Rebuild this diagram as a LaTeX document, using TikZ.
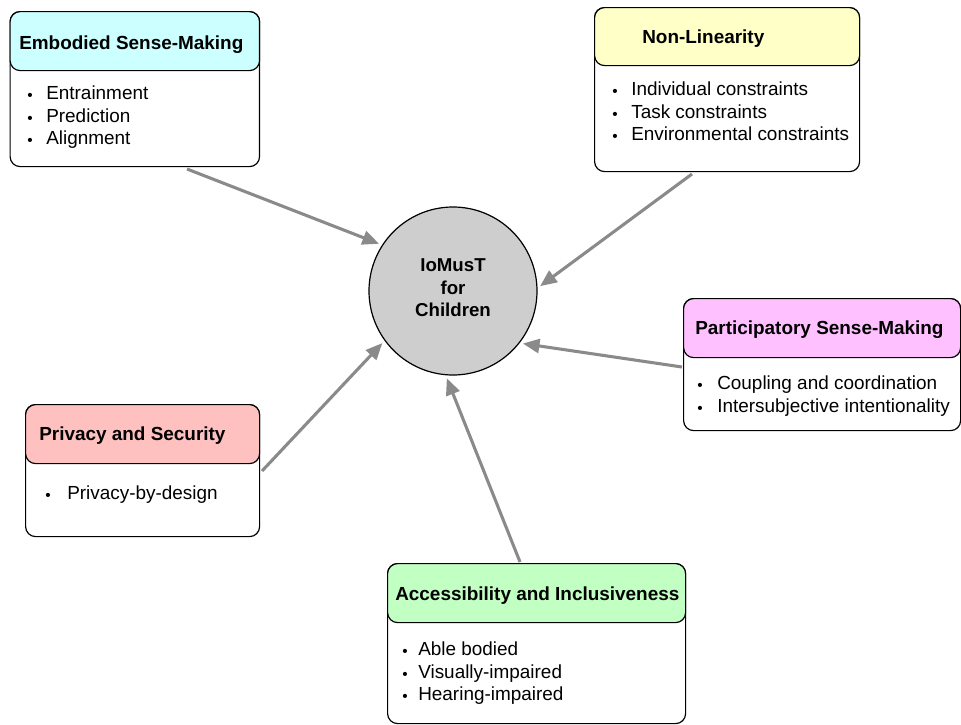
\documentclass[tikz,border=0pt]{standalone}
\usepackage{fontspec}
\setmainfont{Liberation Sans}
\usetikzlibrary{arrows.meta}

\definecolor{hdcyan}{RGB}{204,255,255}
\definecolor{hdyellow}{RGB}{255,255,200}
\definecolor{hdpink}{RGB}{255,192,255}
\definecolor{hdred}{RGB}{255,192,192}
\definecolor{hdgreen}{RGB}{194,255,194}
\definecolor{hubgray}{RGB}{206,206,206}
\definecolor{arrowgray}{RGB}{138,138,138}

\tikzset{
  panelbody/.style={draw=black, line width=0.9pt, rounded corners=7.5pt,
    fill=white, inner sep=0pt, anchor=north west},
  panelhead/.style={panelbody, fill=#1},
  ttl/.style={font=\bfseries\fontsize{14.2}{17}\selectfont, inner sep=0pt, anchor=base west},
  itm/.style={font=\fontsize{14.2}{17}\selectfont, inner sep=0pt, anchor=base west},
  bul/.style={font=\fontsize{11.5}{12}\selectfont, inner sep=0pt, anchor=base, yshift=-0.8pt},
  hubtxt/.style={font=\bfseries\fontsize{14}{16.9}\selectfont, inner sep=0pt, align=center},
  feed/.style={draw=arrowgray, line width=2.3pt,
    -{Triangle[length=12.5pt,width=10.5pt]}, shorten >=2.4pt}
}

\begin{document}
\begin{tikzpicture}[x=0.75pt,y=-0.75pt]
\useasboundingbox (0,0) rectangle (961,725);

% central hub
\node[circle, draw=black, line width=0.9pt, fill=hubgray, minimum size=126pt, inner sep=0pt] (hub) at (453,291) {};
\node[hubtxt] (hub-label) at (453,288) {IoMusT\\for\\Children};

% Embodied Sense-Making
\node[panelbody, minimum width=187.1pt, minimum height=116.25pt] (emb) at (9.5,11) {};
\node[panelhead=hdcyan, minimum width=187.1pt, minimum height=44.25pt] (emb-head) at (9.5,11) {};
\node[ttl] (emb-title) at (19,49) {Embodied Sense-Making};
\node[bul] (emb-b1) at (30,99.5) {•};
\node[itm] (emb-i1) at (46,99.5) {Entrainment};
\node[bul] (emb-b2) at (30,122) {•};
\node[itm] (emb-i2) at (46,122) {Prediction};
\node[bul] (emb-b3) at (30,144.5) {•};
\node[itm] (emb-i3) at (46,144.5) {Alignment};

% Non-Linearity
\node[panelbody, minimum width=198.75pt, minimum height=123pt] (nl) at (594,7) {};
\node[panelhead=hdyellow, minimum width=198.75pt, minimum height=43.5pt] (nl-head) at (594,7) {};
\node[ttl] (nl-title) at (642,43) {Non-Linearity};
\node[bul] (nl-b1) at (615,95.5) {•};
\node[itm] (nl-i1) at (631,95.5) {Individual constraints};
\node[bul] (nl-b2) at (615,118) {•};
\node[itm] (nl-i2) at (631,118) {Task constraints};
\node[bul] (nl-b3) at (615,140.5) {•};
\node[itm] (nl-i3) at (631,140.5) {Environmental constraints};

% Participatory Sense-Making
\node[panelbody, minimum width=207.75pt, minimum height=99pt] (ps) at (683,298) {};
\node[panelhead=hdpink, minimum width=207.75pt, minimum height=44.25pt] (ps-head) at (683,298) {};
\node[ttl] (ps-title) at (695,334) {Participatory Sense-Making};
\node[bul] (ps-b1) at (700,389.5) {•};
\node[itm] (ps-i1) at (717,389.5) {Coupling and coordination};
\node[bul] (ps-b2) at (700,412) {•};
\node[itm] (ps-i2) at (717,412) {Intersubjective intentionality};

% Privacy and Security
\node[panelbody, minimum width=175.5pt, minimum height=99pt] (pv) at (25,404) {};
\node[panelhead=hdred, minimum width=175.5pt, minimum height=44.25pt] (pv-head) at (25,404) {};
\node[ttl] (pv-title) at (39,440) {Privacy and Security};
\node[bul] (pv-b1) at (48,499.5) {•};
\node[itm] (pv-i1) at (67,499.5) {Privacy-by-design};

% Accessibility and Inclusiveness
\node[panelbody, minimum width=223.5pt, minimum height=120pt] (ac) at (387,563) {};
\node[panelhead=hdgreen, minimum width=223.5pt, minimum height=44.25pt] (ac-head) at (387,563) {};
\node[ttl] (ac-title) at (395,600) {Accessibility and Inclusiveness};
\node[bul] (ac-b1) at (405,655.5) {•};
\node[itm] (ac-i1) at (418,655.5) {Able bodied};
\node[bul] (ac-b2) at (405,678) {•};
\node[itm] (ac-i2) at (418,678) {Visually-impaired};
\node[bul] (ac-b3) at (405,700.5) {•};
\node[itm] (ac-i3) at (418,700.5) {Hearing-impaired};

% connector start points below/beside each panel
\coordinate (emb-out) at (187,169);
\coordinate (nl-out) at (692,174);
\coordinate (ps-out) at (682,367);
\coordinate (pv-out) at (262,471);
\coordinate (ac-out) at (520,562);

\draw[feed] (emb-out) -- (hub.147);
\draw[feed] (nl-out) -- (hub.2);
\draw[feed] (ps-out) -- (hub.-38.7);
\draw[feed] (pv-out) -- (hub.216);
\draw[feed] (ac-out) -- (hub.265);
\end{tikzpicture}
\end{document}
